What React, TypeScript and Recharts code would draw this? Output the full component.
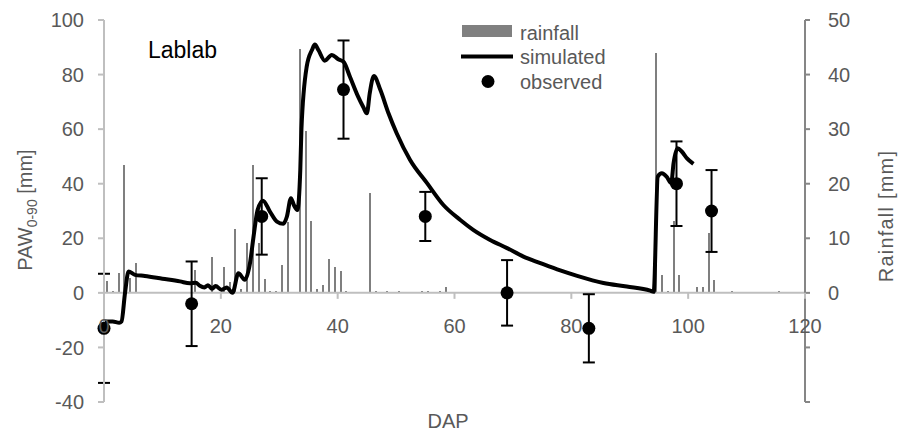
import React from "react";
import {
  ComposedChart,
  Bar,
  Line,
  Scatter,
  ErrorBar,
  XAxis,
  YAxis,
  ReferenceLine,
  Legend,
  Label,
} from "recharts";

// simulated plant-available water (0-90 cm), mm
const simDays = [
  0, 1.5, 2.6, 3.0, 3.6, 4.2, 5.3, 7, 10, 13, 14.7, 15.7, 16.4, 17.2, 17.8,
  18.5, 19.1, 20.1, 21, 22, 23, 24.1, 25, 25.6, 26.3, 27.2, 28.4, 29.6, 30.7,
  31.3, 32, 32.5, 33.1, 33.6, 33.8, 34.7, 35.6, 36.1, 36.7, 37.8, 39, 40.1, 41,
  42.1, 43.5, 44.4, 45, 45.5, 46.2, 47.3, 48.7, 50.1, 52.4, 55.3, 58.1, 61,
  63.2, 66.1, 69, 71.8, 74.7, 78.1, 81, 85.5, 89.5, 93.5, 94.1, 94.8, 95.5,
  96.3, 97.1, 97.5, 98.2, 98.9, 99.8, 100.9,
];
const simPaw = [
  -10.5, -10.5, -11, -10.5, 0, 7.8, 6.6, 6.2, 5.2, 4.2, 3.5, 3.7, 2.6, 2.0, 2.8,
  1.5, 2.5, 1.1, 2.0, 0, 7.2, 4.8, 11, 20.6, 30.4, 33.8, 29.8, 26.1, 25.3, 27.9,
  34.7, 32.2, 30.4, 45, 60, 82.9, 89, 91, 89, 85.1, 87.2, 85.6, 84.7, 79.2,
  71.9, 68, 65.8, 73.3, 79.5, 74.4, 65.8, 58.5, 48.7, 40.2, 32.2, 26.7, 23.1,
  19.4, 16.4, 13.3, 10.9, 8.2, 6.2, 3.6, 2.3, 0.8, 0.4, 42.6, 43.8, 42.6, 40.2,
  47.5, 53, 51.8, 49.3, 47.3,
];

// observed PAW with standard deviation
const obsDays = [0, 15, 27, 41, 55, 69, 83, 98, 104];
const obsPaw = [-13, -4, 28, 74.5, 28, 0, -13, 40, 30];
const obsErr = [20, 15.5, 14, 18, 9, 12, 12.5, 15.5, 15];

// daily rainfall, mm
const rainDays = [
  0.5, 1.5, 2.5, 3.5, 4.5, 5.5, 15.5, 18.5, 20.5, 21.5, 22.5, 23.5, 24.5, 25.5,
  26.5, 27.5, 28.5, 29.5, 30.5, 31.5, 33.5, 34.5, 35.5, 36.5, 37.5, 38.5, 39.5,
  40.5, 41.5, 45.5, 46.5, 48.5, 50.5, 54.5, 55.5, 57.5, 58.5, 94.5, 95.5, 96.5,
  97.5, 98.5, 101.5, 102.5, 103.5, 104.5, 107.5, 115.5,
];
const rainMm = [
  2.2, 0.3, 3.7, 23.4, 2.7, 5.5, 4.1, 6.6, 4.7, 1.9, 11.7, 0.7, 9.1, 23.4, 9.1,
  2.5, 0.3, 0.3, 5.1, 13, 44.7, 29.7, 13.2, 0.7, 1.5, 6.2, 4.7, 4, 0.3, 18.3,
  0.4, 0.3, 0.3, 0.3, 0.3, 0.4, 1.0, 43.9, 3.3, 0.4, 13.2, 3.3, 1.1, 1.1, 11.0,
  2.3, 0.3, 0.3,
];

const dapTicks = [0, 20, 40, 60, 80, 100, 120];
const pawTicks = [-40, -20, 0, 20, 40, 60, 80, 100];
const rainTicks = [-20, -10, 0, 10, 20, 30, 40, 50];

const rainData = rainDays.map((day, i) => ({ day, rain: rainMm[i] }));
const simData = simDays.map((day, i) => ({ day, paw: simPaw[i] }));
const obsData = obsDays.map((day, i) => ({ day, paw: obsPaw[i], err: obsErr[i] }));

const W = 901;
const H = 439;
const TOP = 20;
const BOTTOM = 37;
const PAW_MIN = -40;
const PAW_MAX = 100;
// the DAP axis crosses at PAW = 0
const ZERO_Y = TOP + ((H - TOP - BOTTOM) * PAW_MAX) / (PAW_MAX - PAW_MIN);

const FONT = "'Liberation Sans', Arial, sans-serif";
const TXT = "#595959";

const DapTick = (props: any) => {
  const { x, payload } = props;
  return (
    <g>
      <line x1={x} x2={x} y1={ZERO_Y} y2={ZERO_Y + 6} stroke="#bfbfbf" strokeWidth={2} />
      <text x={x} y={ZERO_Y + 40} textAnchor="middle" fill={TXT} fontSize={20} fontFamily={FONT}>
        {payload.value}
      </text>
    </g>
  );
};

// thin rain column, centred on the day
const RainBar = (props: any) => {
  const { x, y, width, height } = props;
  if (!height) return null;
  const cx = x + width / 2;
  return (
    <rect
      x={Math.round(cx) - 1}
      y={y}
      width={2}
      height={height}
      fill="#7f7f7f"
      shapeRendering="crispEdges"
    />
  );
};

const Dot = (props: any) => <circle cx={props.cx} cy={props.cy} r={6.5} fill="#000" />;

const LegendBox = () => (
  <svg width={200} height={80} style={{ overflow: "visible" }}>
    <rect x={7} y={7} width={50} height={12} fill="#808080" />
    <line x1={6} x2={58} y1={38.5} y2={38.5} stroke="#000" strokeWidth={4} />
    <circle cx={33} cy={63.5} r={6.5} fill="#000" />
    <g fill={TXT} fontSize={20} fontFamily={FONT}>
      <text x={65} y={22}>rainfall</text>
      <text x={65} y={46}>simulated</text>
      <text x={65} y={71}>observed</text>
    </g>
  </svg>
);

export default function App() {
  return (
    <div style={{ position: "absolute", left: 0, top: 0, width: W, height: H, fontFamily: FONT }}>
      <ComposedChart
        width={W}
        height={H}
        data={rainData}
        margin={{ top: TOP, right: 0, bottom: 0, left: 0 }}
      >
        <XAxis
          dataKey="day"
          type="number"
          domain={[0, 120]}
          ticks={dapTicks}
          interval={0}
          height={BOTTOM}
          axisLine={false}
          tickLine={false}
          tick={<DapTick />}
        >
          <Label
            content={() => (
              <text x={448} y={428} textAnchor="middle" fill={TXT} fontSize={20} fontFamily={FONT}>
                DAP
              </text>
            )}
          />
        </XAxis>
        <YAxis
          yAxisId="left"
          domain={[PAW_MIN, PAW_MAX]}
          ticks={pawTicks}
          interval={0}
          width={104}
          axisLine={{ stroke: "#bfbfbf", strokeWidth: 2 }}
          tickLine={{ stroke: "#bfbfbf", strokeWidth: 2 }}
          tickSize={6}
          tickMargin={14}
          tick={{ fill: TXT, fontSize: 20, fontFamily: FONT }}
        >
          <Label
            content={() => (
              <text
                x={32}
                y={210}
                transform="rotate(-90, 32, 210)"
                textAnchor="middle"
                fill={TXT}
                fontSize={20}
                fontFamily={FONT}
              >
                PAW
                <tspan dy={5} fontSize={14}>0-90</tspan>
                <tspan dy={-5}> [mm]</tspan>
              </text>
            )}
          />
        </YAxis>
        <YAxis
          yAxisId="right"
          orientation="right"
          domain={[-20, 50]}
          ticks={rainTicks}
          interval={0}
          width={96}
          axisLine={{ stroke: "#868686", strokeWidth: 2 }}
          tickLine={{ stroke: "#868686", strokeWidth: 2 }}
          tickSize={5}
          tickMargin={18}
          tickFormatter={(v: number) => (v < 0 ? "" : String(v))}
          tick={{ fill: TXT, fontSize: 20, fontFamily: FONT }}
        >
          <Label
            content={() => (
              <text
                x={893}
                y={216}
                transform="rotate(-90, 893, 216)"
                textAnchor="middle"
                fill={TXT}
                fontSize={20}
                letterSpacing={1.2}
                fontFamily={FONT}
              >
                Rainfall [mm]
              </text>
            )}
          />
        </YAxis>
        <ReferenceLine yAxisId="left" y={0} stroke="#bfbfbf" strokeWidth={2} />
        <Bar
          yAxisId="right"
          dataKey="rain"
          fill="#7f7f7f"
          barSize={2}
          shape={<RainBar />}
          isAnimationActive={false}
        />
        <Line
          yAxisId="left"
          data={simData}
          dataKey="paw"
          type="monotone"
          stroke="#000"
          strokeWidth={4}
          dot={false}
          activeDot={false}
          isAnimationActive={false}
        />
        <Scatter
          yAxisId="left"
          data={obsData}
          dataKey="paw"
          fill="#000"
          shape={<Dot />}
          isAnimationActive={false}
        >
          <ErrorBar dataKey="err" direction="y" width={6} stroke="#000" strokeWidth={2} />
        </Scatter>
        <Legend
          layout="horizontal"
          verticalAlign="middle"
          align="center"
          content={LegendBox}
          wrapperStyle={{ position: "absolute", left: 455, top: 18, width: 200, height: 80 }}
        />
      </ComposedChart>
      <div
        style={{
          position: "absolute",
          left: 148,
          top: 37,
          fontSize: 23,
          color: "#000",
          fontFamily: FONT,
        }}
      >
        Lablab
      </div>
    </div>
  );
}
